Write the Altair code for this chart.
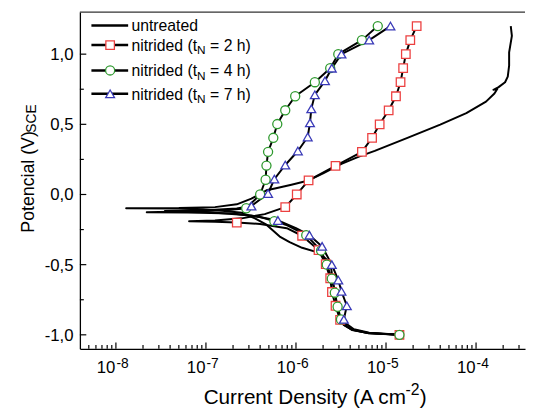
import altair as alt
import pandas as pd

# ---------------- data ----------------
# untreated (plain black line)
untreated_v = [-1.0, -0.995, -0.987, -0.964, -0.93, -0.88, -0.8, -0.7, -0.6, -0.52, -0.484,
               -0.414, -0.38, -0.34, -0.3, -0.215, -0.17, -0.13, -0.11, -0.1, -0.098,
               -0.097, -0.09, -0.07, -0.03, 0.03, 0.045, 0.07, 0.1, 0.15, 0.218, 0.27, 0.311,
               0.404, 0.498, 0.58, 0.662, 0.72, 0.752, 0.746, 0.765, 0.8, 0.84, 0.919, 1.013,
               1.13, 1.2]
untreated_i = [1.41e-5, 1.0e-5, 6.3e-6, 4.2e-6, 3.4e-6, 3.1e-6, 2.85e-6, 2.7e-6, 2.55e-6, 2.45e-6, 2.4e-6,
               1.78e-6, 1.17e-6, 8.5e-7, 6.6e-7, 4.7e-7, 3.5e-7, 2.5e-7, 1.26e-7, 5.0e-8, 1.3e-8,
               5.0e-8, 1.26e-7, 2.2e-7, 3.2e-7, 4.7e-7, 6.0e-7, 8.9e-7, 1.38e-6, 2.0e-6, 3.2e-6, 5.0e-6, 7.5e-6,
               1.73e-5, 4.0e-5, 7.8e-5, 1.29e-4, 1.6e-4, 1.72e-4, 1.56e-4, 1.78e-4, 2.1e-4, 2.25e-4, 2.33e-4, 2.33e-4,
               2.5e-4, 2.43e-4]

# nitrided t_N = 2 h (red squares)
n2_v = [-1.0, -0.988, -0.965, -0.93, -0.894, -0.793, -0.695, -0.597, -0.496, -0.396, -0.294,
        -0.24, -0.21, -0.2, -0.195, -0.19,
        -0.185, -0.17, -0.14, -0.09, 0.0, 0.1, 0.204, 0.304, 0.404, 0.5, 0.6, 0.7, 0.8, 0.9,
        1.0, 1.1, 1.2]
n2_i = [1.41e-5, 6.3e-6, 4.2e-6, 3.4e-6, 3.09e-6, 2.75e-6, 2.51e-6, 2.4e-6, 2.14e-6, 1.78e-6, 1.17e-6,
        7.9e-7, 4.0e-7, 2.2e-7, 1.26e-7, 6.5e-8,
        1.26e-7, 2.5e-7, 4.5e-7, 7.6e-7, 1.02e-6, 1.38e-6, 2.75e-6, 5.4e-6, 7.0e-6, 8.5e-6, 1.07e-5,
        1.29e-5, 1.45e-5, 1.55e-5, 1.66e-5, 1.86e-5, 2.19e-5]
n2_m = [1, 0, 0, 0, 1, 1, 1, 1, 1, 1, 1,
        0, 0, 1, 0, 0,
        0, 0, 0, 1, 1, 1, 1, 1, 1, 1, 1, 1, 1, 1, 1, 1, 1]

# nitrided t_N = 4 h (green circles)
n4_v = [-1.0, -0.987, -0.962, -0.93, -0.89, -0.8, -0.7, -0.6, -0.5, -0.4, -0.29, -0.22,
        -0.19, -0.16, -0.135, -0.128, -0.126,
        -0.12, -0.11, -0.098, 0.0, 0.105, 0.206, 0.304, 0.404, 0.502, 0.6, 0.7, 0.8, 0.9,
        1.0, 1.1, 1.2]
n4_i = [1.41e-5, 6.3e-6, 4.2e-6, 3.5e-6, 3.16e-6, 2.9e-6, 2.7e-6, 2.5e-6, 2.2e-6, 1.9e-6, 1.3e-6, 8.0e-7,
        5.75e-7, 4.0e-7, 2.0e-7, 6.3e-8, 2.2e-8,
        7.9e-8, 1.8e-7, 2.8e-7, 4.0e-7, 4.6e-7, 4.7e-7, 4.9e-7, 5.6e-7, 6.2e-7, 7.6e-7, 9.8e-7,
        1.62e-6, 2.4e-6, 2.95e-6, 5.4e-6, 8.1e-6]
n4_m = [1, 0, 0, 0, 1, 1, 1, 1, 1, 1, 1, 0,
        1, 0, 0, 0, 0,
        0, 0, 1, 1, 1, 1, 1, 1, 1, 1, 1, 1, 1, 1, 1, 1]

# nitrided t_N = 7 h (blue triangles)
n7_v = [-1.0, -0.985, -0.96, -0.92, -0.89, -0.793, -0.69, -0.61, -0.5, -0.37, -0.29, -0.24,
        -0.185, -0.15, -0.125, -0.117,
        -0.112, -0.1, -0.082, 0.007, 0.11, 0.21, 0.31, 0.41, 0.51, 0.61, 0.71, 0.81, 0.9,
        1.0, 1.1, 1.2]
n7_i = [1.41e-5, 6.5e-6, 4.4e-6, 3.6e-6, 3.4e-6, 3.67e-6, 3.2e-6, 2.95e-6, 2.5e-6, 1.95e-6, 1.41e-6, 1.0e-6,
        6.3e-7, 3.2e-7, 1.0e-7, 3.5e-8,
        1.0e-7, 2.2e-7, 3.2e-7, 4.9e-7, 5.75e-7, 7.6e-7, 1.05e-6, 1.35e-6, 1.43e-6, 1.48e-6, 1.62e-6,
        2.1e-6, 2.5e-6, 3.2e-6, 6.5e-6, 1.12e-5]
n7_m = [0, 0, 0, 0, 1, 1, 1, 1, 1, 1, 1, 0,
        1, 0, 0, 0,
        0, 0, 1, 1, 1, 1, 1, 1, 1, 1, 1, 1, 1, 1, 1, 1]

series_names = ["untreated", "2h", "4h", "7h"]
legend_main = ["untreated", "nitrided (t", "nitrided (t", "nitrided (t"]
legend_sub = ["", "N", "N", "N"]
legend_tail = ["", "= 2 h)", "= 4 h)", "= 7 h)"]

y_tick_values = [-1.0, -0.5, 0.0, 0.5, 1.0]
y_tick_labels = ["-1,0", "-0,5", "0,0", "0,5", "1,0"]
y_minor_values = [-0.75, -0.25, 0.25, 0.75]
x_tick_values = [1e-8, 1e-7, 1e-6, 1e-5, 1e-4]
x_tick_base = ["10", "10", "10", "10", "10"]
x_tick_exp = ["-8", "-7", "-6", "-5", "-4"]
x_minor_values = [k * 10.0 ** e for e in range(-9, -3) for k in range(2, 10)]

# ---------------- styling / layout ----------------
F = "Liberation Sans"
W, H = 452, 342
X_MIN, X_MAX = 10 ** -8.4, 10 ** -3.456
x_minor_values = [v for v in x_minor_values if X_MIN * 1.15 < v < X_MAX]
RED, GREEN, BLUE = "#ec4040", "#2f9a2f", "#3a3ab8"

rows = []
for name, vs, cs, ms in [("untreated", untreated_v, untreated_i, [0] * len(untreated_v)),
                         ("2h", n2_v, n2_i, n2_m), ("4h", n4_v, n4_i, n4_m), ("7h", n7_v, n7_i, n7_m)]:
    for k, (v, c) in enumerate(zip(vs, cs)):
        rows.append({"s": name, "k": k, "V": v, "I": c, "m": ms[k]})
df = pd.DataFrame(rows)

xs = alt.Scale(type="log", domain=[X_MIN, X_MAX], nice=False)
ys = alt.Scale(domain=[-1.1, 1.3], nice=False)
xaxis = alt.Axis(labels=False, ticks=False, grid=False, title=None, domainColor="black", domainWidth=1.3)
yaxis = alt.Axis(labels=False, ticks=False, grid=False, title=None, domainColor="black", domainWidth=1.3)

one = pd.DataFrame({"a": [0]})
layers = []

# curves
layers.append(alt.Chart(df).mark_line(color="black", strokeWidth=2, strokeJoin="round").encode(
    x=alt.X("I:Q", scale=xs, axis=xaxis), y=alt.Y("V:Q", scale=ys, axis=yaxis),
    detail="s:N", order="k:Q"))

marker_style = {"2h": ("square", RED, 75), "4h": ("circle", GREEN, 85), "7h": ("triangle-up", BLUE, 80)}
for name in ["2h", "4h", "7h"]:
    shp, col, sz = marker_style[name]
    sub = df[(df.s == name) & (df.m == 1)]
    layers.append(alt.Chart(sub).mark_point(shape=shp, size=sz, fill="white", fillOpacity=1, stroke=col,
                                             strokeWidth=1.3, opacity=1).encode(
        x=alt.X("I:Q", scale=xs), y=alt.Y("V:Q", scale=ys)))

# top frame line
layers.append(alt.Chart(one).mark_rule(color="#333333", strokeWidth=1.3).encode(
    x=alt.value(0), x2=alt.value(W), y=alt.value(0)))

# inward ticks
xt = pd.DataFrame({"t": x_tick_values})
xm = pd.DataFrame({"t": x_minor_values})
layers.append(alt.Chart(xt).mark_rule(color="black", strokeWidth=1.2).encode(
    x=alt.X("t:Q", scale=xs), y=alt.value(H), y2=alt.value(H - 6.5)))
layers.append(alt.Chart(xm).mark_rule(color="black", strokeWidth=1.2).encode(
    x=alt.X("t:Q", scale=xs), y=alt.value(H), y2=alt.value(H - 4)))
yt = pd.DataFrame({"t": y_tick_values, "lab": y_tick_labels})
ym = pd.DataFrame({"t": y_minor_values})
layers.append(alt.Chart(yt).mark_rule(color="black", strokeWidth=1.2).encode(
    y=alt.Y("t:Q", scale=ys), x=alt.value(0), x2=alt.value(6.5)))
layers.append(alt.Chart(ym).mark_rule(color="black", strokeWidth=1.2).encode(
    y=alt.Y("t:Q", scale=ys), x=alt.value(0), x2=alt.value(4)))

# y tick labels
layers.append(alt.Chart(yt).mark_text(font=F, fontSize=17, align="right", baseline="middle", dy=1).encode(
    y=alt.Y("t:Q", scale=ys), x=alt.value(-6.5), text="lab:N"))

# x tick labels 10^n
xl = pd.DataFrame({"t": x_tick_values, "b": x_tick_base, "e": x_tick_exp})
layers.append(alt.Chart(xl).mark_text(font=F, fontSize=17, align="right", baseline="alphabetic", dx=-0.5).encode(
    x=alt.X("t:Q", scale=xs), y=alt.value(H + 24.5), text="b:N"))
layers.append(alt.Chart(xl).mark_text(font=F, fontSize=14, align="left", baseline="alphabetic", dx=0.5).encode(
    x=alt.X("t:Q", scale=xs), y=alt.value(H + 19), text="e:N"))

# axis titles
def txt(s, x, y, size, angle=0):
    kw = {"font": F, "fontSize": size, "align": "left", "baseline": "alphabetic", "text": s}
    if angle:
        kw["angle"] = angle
    return alt.Chart(one).mark_text(**kw).encode(x=alt.value(x), y=alt.value(y))

layers.append(txt("Current Density (A cm", 125.7, H + 56.3, 21))
layers.append(txt("-2", 330.7, H + 47, 16))
layers.append(txt(")", 345, H + 56.3, 21))
layers.append(txt("Potencial (V)", -47, 224, 18, 270))
layers.append(txt("SCE", -45, 122.5, 14, 270))

# legend
leg_rows = [13.7, 33.5, 59.3, 83.0]
leg_mark = [None, marker_style["2h"], marker_style["4h"], marker_style["7h"]]
for r, mk, a, b, c in zip(leg_rows, leg_mark, legend_main, legend_sub, legend_tail):
    layers.append(alt.Chart(one).mark_rule(color="black", strokeWidth=2.5).encode(
        x=alt.value(11.7), x2=alt.value(49), y=alt.value(r)))
    if mk is not None:
        layers.append(alt.Chart(one).mark_point(shape=mk[0], size=mk[2], fill="white", fillOpacity=1,
                                                 stroke=mk[1], strokeWidth=1.3, opacity=1).encode(
            x=alt.value(30.7), y=alt.value(r)))
    layers.append(txt(a, 52.3, r + 6, 16))
    if b:
        layers.append(txt(b, 119.0, r + 9.5, 12))
        layers.append(txt(c, 132.2, r + 6, 16))

chart = alt.layer(*layers).properties(
    width=W, height=H,
    padding={"left": 73, "top": 1, "right": 2, "bottom": 61},
    autosize=alt.AutoSizeParams(type="none"),
).configure_view(stroke=None)

chart.save("out.html", embed_options={"renderer": "svg", "actions": False})
